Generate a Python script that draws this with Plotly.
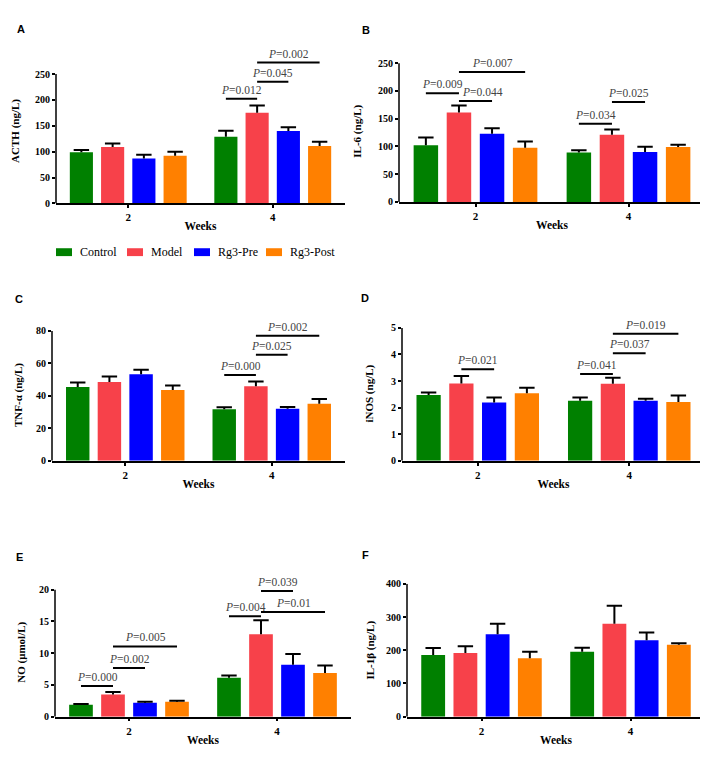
import plotly.graph_objects as go

weeks = ["2", "4"]
groups = ["Control", "Model", "Rg3-Pre", "Rg3-Post"]
colors = ["#008000", "#F7414A", "#0000FF", "#FF8000"]

# mean and SEM per group (Control, Model, Rg3-Pre, Rg3-Post), each as [week 2, week 4]
acth_mean = [[99, 129], [109, 175], [87, 140], [92, 111]]
acth_sem = [[4, 11.5], [7, 14], [7, 7], [8, 8]]

il6_mean = [[102, 89], [161, 121], [123, 90], [97.5, 99]]
il6_sem = [[14, 4], [13, 9.6], [10, 9.6], [11.5, 4]]

tnf_mean = [[45.4, 31.8], [48.6, 46], [53.3, 32], [43.6, 35.2]]
tnf_sem = [[2.8, 1.2], [3.3, 2.8], [2.8, 1.2], [2.8, 2.8]]

inos_mean = [[2.48, 2.26], [2.91, 2.9], [2.19, 2.26], [2.54, 2.21]]
inos_sem = [[0.09, 0.12], [0.28, 0.22], [0.19, 0.07], [0.21, 0.25]]

no_mean = [[1.87, 6.13], [3.48, 12.99], [2.18, 8.2], [2.34, 6.9]]
no_sem = [[0.13, 0.37], [0.42, 2.2], [0.16, 1.67], [0.16, 1.15]]

il1b_mean = [[185.7, 195.6], [191.6, 279.5], [248, 230], [175.8, 216.3]]
il1b_sem = [[21.3, 11.8], [20.4, 54.3], [31.5, 23.8], [19.8, 4.9]]

# significance brackets: (week index, bar from, bar to, height, p value)
acth_p = [(1, 0, 1, 202, "0.012"), (1, 1, 2, 235, "0.045"), (1, 1, 3, 272, "0.002")]
il6_p = [(0, 0, 1, 196, "0.009"), (0, 1, 2, 182, "0.044"), (0, 1, 3, 234, "0.007"),
         (1, 0, 1, 141, "0.034"), (1, 1, 2, 180, "0.025")]
tnf_p = [(1, 0, 1, 52.9, "0.000"), (1, 1, 2, 65.3, "0.025"), (1, 1, 3, 77, "0.002")]
inos_p = [(0, 1, 2, 3.44, "0.021"), (1, 0, 1, 3.27, "0.041"), (1, 1, 2, 4.05, "0.037"),
          (1, 1, 3, 4.78, "0.019")]
no_p = [(0, 0, 1, 4.83, "0.000"), (0, 1, 2, 7.69, "0.002"), (0, 1, 3, 11.07, "0.005"),
        (1, 0, 1, 15.84, "0.004"), (1, 1, 2, 19.8, "0.039"), (1, 1, 3, 16.5, "0.01")]
il1b_p = []

W, H = 708, 757
bargap = 0.135
serif = "Liberation Serif"

# panel: data, title, dtick, top tick, range max, x px, y px (bottom, top), title standoff, letter pos
panels = [
    (acth_mean, acth_sem, acth_p, "ACTH (ng/L)", 50, 250, 280, (48, 337), (192.5, 45.2), 13, "A", (13, 15)),
    (il6_mean, il6_sem, il6_p, "IL-6 (ng/L)", 50, 250, 255, (391, 697), (191, 47.2), 14, "B", (358, 16)),
    (tnf_mean, tnf_sem, tnf_p, "TNF-α (ng/L)", 20, 80, 81, (44, 337), (454, 320.4), 11, "C", (11, 290)),
    (inos_mean, inos_sem, inos_p, "iNOS (ng/L)", 1, 5, 5.05, (394, 697), (454, 317.6), 15, "D", (357, 289)),
    (no_mean, no_sem, no_p, "NO (μmol/L)", 5, 20, 20.3, (47, 343), (714, 583.1), 11, "E", (11, 552)),
    (il1b_mean, il1b_sem, il1b_p, "IL-1β (ng/L)", 100, 400, 400, (399, 697), (714, 579), 9, "F", (357, 550)),
]

fig = go.Figure()
shapes = []
annotations = []
layout = {}

for n, (mean, sem, brackets, ytitle, dtick, ytop, ymax, xpx, ypx, standoff, letter, lpos) in enumerate(panels, start=1):
    sfx = "" if n == 1 else str(n)
    for g, name in enumerate(groups):
        fig.add_trace(go.Bar(
            x=weeks, y=mean[g], name=name, marker_color=colors[g], marker_line_width=0,
            xaxis="x" + sfx, yaxis="y" + sfx, showlegend=False,
        ))
    # upper error bars only (T shape): stem from the bar top, cap at mean + SEM
    for g, name in enumerate(groups):
        top = [m + s for m, s in zip(mean[g], sem[g])]
        fig.add_trace(go.Scatter(
            x=weeks, y=top, mode="markers", showlegend=False, hoverinfo="skip",
            marker=dict(symbol="line-ew", size=11, line=dict(color="black", width=2)),
            error_y=dict(type="data", array=[0, 0], arrayminus=sem[g], symmetric=False,
                         color="black", thickness=2, width=0),
            xaxis="x" + sfx, yaxis="y" + sfx,
        ))

    layout["xaxis" + sfx] = dict(
        domain=[xpx[0] / W, xpx[1] / W], anchor="y" + sfx, type="category",
        range=[-0.5, 1.5], showline=True, linecolor="black", linewidth=1.5,
        ticks="outside", ticklen=3, tickwidth=1.5, tickcolor="black",
        tickfont=dict(family=serif, size=11, color="black", weight="bold"),
        title=dict(text="Weeks", standoff=0,
                   font=dict(family=serif, size=11.5, color="black", weight="bold")),
        showgrid=False, zeroline=False, fixedrange=True,
    )
    layout["yaxis" + sfx] = dict(
        domain=[1 - ypx[0] / H, 1 - ypx[1] / H], anchor="x" + sfx,
        range=[0, ymax], dtick=dtick, showline=False,
        ticks="outside", ticklen=3, tickwidth=1.5, tickcolor="black",
        tickfont=dict(family=serif, size=10, color="black", weight="bold"),
        title=dict(text=ytitle, standoff=standoff,
                   font=dict(family=serif, size=11, color="black", weight="bold")),
        showgrid=False, zeroline=False, fixedrange=True,
    )
    # y axis line stops at the top tick
    shapes.append(dict(type="line", xref="x" + sfx + " domain", yref="y" + sfx,
                       x0=0, x1=0, y0=0, y1=ytop, line=dict(color="black", width=1.5)))

    slot = (1 - bargap) / len(groups)
    for wk, i, j, yb, p in brackets:
        xa = wk - (1 - bargap) / 2 + (i + 0.5) * slot
        xb = wk - (1 - bargap) / 2 + (j + 0.5) * slot
        shapes.append(dict(type="line", xref="x" + sfx, yref="y" + sfx,
                           x0=xa, x1=xb, y0=yb, y1=yb, line=dict(color="black", width=2)))
        annotations.append(dict(
            x=(xa + xb) / 2, y=yb, xref="x" + sfx, yref="y" + sfx,
            text="<i>P</i>=" + p, showarrow=False, yanchor="bottom", yshift=1,
            xshift=7 if (n == 2 and p == "0.044") else 0,
            font=dict(family=serif, size=11.5, color="#444"),
        ))

    annotations.append(dict(
        x=lpos[0] / W, y=1 - lpos[1] / H, xref="paper", yref="paper",
        text="<b>" + letter + "</b>", showarrow=False, xanchor="center", yanchor="middle",
        font=dict(family="Liberation Sans", size=11, color="black"),
    ))

# legend under panel A: coloured swatch then group name
legend_x = [48, 119, 186, 258]
legend_y = 242
for g, name in enumerate(groups):
    shapes.append(dict(type="rect", xref="paper", yref="paper",
                       x0=legend_x[g] / W, x1=(legend_x[g] + 16) / W,
                       y0=1 - (legend_y + 4) / H, y1=1 - (legend_y - 4) / H,
                       fillcolor=colors[g], line_width=0))
    annotations.append(dict(
        x=(legend_x[g] + 22) / W, y=1 - legend_y / H, xref="paper", yref="paper",
        text=name, showarrow=False, xanchor="left", yanchor="middle",
        font=dict(family=serif, size=12, color="black"),
    ))

fig.update_layout(
    width=W, height=H, margin=dict(l=0, r=0, t=0, b=0),
    paper_bgcolor="white", plot_bgcolor="white",
    barmode="group", bargap=bargap, bargroupgap=0.26,
    scattermode="group", scattergap=bargap,
    shapes=shapes, annotations=annotations, showlegend=False,
    **layout,
)

fig.write_html("out.html")
